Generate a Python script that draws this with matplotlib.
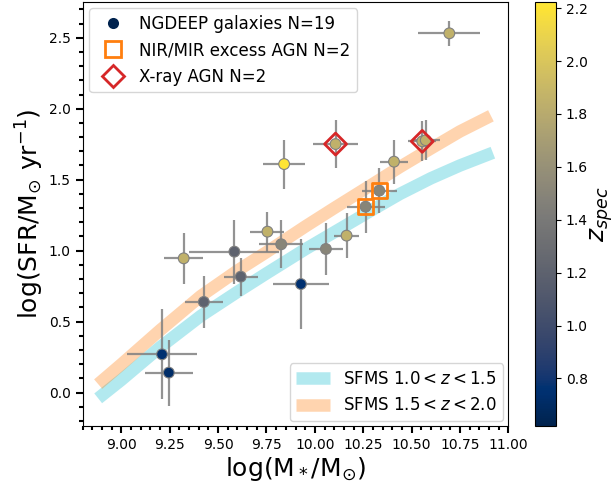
import matplotlib
matplotlib.use("Agg")
import matplotlib.pyplot as plt
import numpy as np
from matplotlib.lines import Line2D
from matplotlib.ticker import MultipleLocator

# ---- data ----
logm = [9.322, 9.584, 9.755, 9.826, 9.617, 9.426, 9.928, 9.210, 9.245,
        10.107, 10.555, 10.573, 10.409, 10.333, 10.262, 10.164, 10.057, 10.695, 9.841]
logm_err = [0.10, 0.233, 0.088, 0.114, 0.088, 0.098, 0.145, 0.18, 0.124,
            0.116, 0.072, 0.072, 0.072, 0.09, 0.098, 0.065, 0.088, 0.16, 0.109]
logsfr = [0.946, 0.993, 1.134, 1.045, 0.817, 0.639, 0.765, 0.270, 0.141,
          1.751, 1.770, 1.778, 1.627, 1.423, 1.310, 1.106, 1.012, 2.531, 1.610]
logsfr_err = [0.18, 0.225, 0.14, 0.17, 0.134, 0.183, 0.317, 0.317, 0.232,
              0.169, 0.14, 0.14, 0.155, 0.158, 0.183, 0.158, 0.183, 0.09, 0.173]
zspec = [1.85, 1.20, 1.85, 1.50, 1.20, 1.20, 0.75, 0.75, 0.72,
         1.85, 1.85, 1.85, 1.85, 1.50, 1.50, 1.85, 1.50, 1.85, 2.20]

nirmir_agn = [13, 14]     # indices of NIR/MIR excess AGN
xray_agn = [9, 10]        # indices of X-ray AGN

sfms1_x = [8.88, 9.00, 9.20, 9.41, 9.60, 9.75, 9.95, 10.10, 10.30, 10.44, 10.60, 10.75, 10.92]
sfms1_y = [-0.04, 0.09, 0.32, 0.54, 0.71, 0.84, 1.01, 1.13, 1.29, 1.40, 1.51, 1.60, 1.69]
sfms2_x = [8.88, 9.00, 9.20, 9.41, 9.60, 9.75, 9.95, 10.10, 10.30, 10.44, 10.60, 10.75, 10.91]
sfms2_y = [0.06, 0.20, 0.44, 0.68, 0.86, 0.99, 1.17, 1.30, 1.47, 1.59, 1.72, 1.84, 1.95]

fig = plt.figure(figsize=(6.14, 4.90), dpi=100)
ax = fig.add_axes([0.1347, 0.1306, 0.6932, 0.8663])
cax = fig.add_axes([0.8713, 0.1306, 0.0342, 0.8663])

l1, = ax.plot(sfms1_x, sfms1_y, color='tab:cyan', alpha=0.33, lw=9,
              solid_capstyle='butt', zorder=1, label=r'SFMS $1.0 < z < 1.5$')
l2, = ax.plot(sfms2_x, sfms2_y, color='tab:orange', alpha=0.33, lw=9,
              solid_capstyle='butt', zorder=1, label=r'SFMS $1.5 < z < 2.0$')

ax.errorbar(logm, logsfr, xerr=logm_err, yerr=logsfr_err, fmt='none',
            ecolor='gray', elinewidth=1.6, alpha=0.85, capsize=0, zorder=2)
sc = ax.scatter(logm, logsfr, c=zspec, cmap='cividis', vmin=0.62, vmax=2.225,
                s=60, edgecolors='gray', linewidths=0.8, zorder=3)

ax.scatter([logm[i] for i in nirmir_agn], [logsfr[i] for i in nirmir_agn],
           marker='s', s=125, facecolors='none', edgecolors='tab:orange',
           linewidths=2, zorder=4)
ax.scatter([logm[i] for i in xray_agn], [logsfr[i] for i in xray_agn],
           marker='D', s=125, facecolors='none', edgecolors='tab:red',
           linewidths=2, zorder=4)

ax.set_xlim(8.8, 11.0)
ax.set_ylim(-0.235, 2.755)
ax.xaxis.set_major_locator(MultipleLocator(0.25))
ax.xaxis.set_minor_locator(MultipleLocator(0.05))
ax.xaxis.set_major_formatter(matplotlib.ticker.FormatStrFormatter('%.2f'))
ax.yaxis.set_major_locator(MultipleLocator(0.5))
ax.yaxis.set_minor_locator(MultipleLocator(0.1))
ax.tick_params(which='major', length=5, width=1.5, labelsize=10)
ax.tick_params(which='minor', length=3, width=1.5)

ax.set_xlabel(r'log(M$_*$/M$_{\odot}$)', fontsize=18, labelpad=2)
ax.set_ylabel(r'log(SFR/M$_{\odot}$ yr$^{-1}$)', fontsize=18, labelpad=2)

h1 = Line2D([], [], marker='o', ls='none', markersize=8,
            markerfacecolor=plt.get_cmap('cividis')(0.0), markeredgecolor='none')
h2 = Line2D([], [], marker='s', ls='none', markersize=11,
            markerfacecolor='none', markeredgecolor='tab:orange', markeredgewidth=2)
h3 = Line2D([], [], marker='D', ls='none', markersize=11,
            markerfacecolor='none', markeredgecolor='tab:red', markeredgewidth=2)
leg1 = ax.legend([h1, h2, h3], ['NGDEEP galaxies N=19', 'NIR/MIR excess AGN N=2',
                                'X-ray AGN N=2'], loc='upper left', fontsize=12,
                 borderaxespad=0.4, handletextpad=0.6)
ax.add_artist(leg1)
ax.legend(handles=[l1, l2], loc='lower right', fontsize=12, borderaxespad=0.3)

cb = fig.colorbar(sc, cax=cax)
cb.set_label(r'$z_{spec}$', fontsize=18, labelpad=0)
cb.set_ticks([0.8, 1.0, 1.2, 1.4, 1.6, 1.8, 2.0, 2.2])

fig.savefig('out.png', dpi=100)
